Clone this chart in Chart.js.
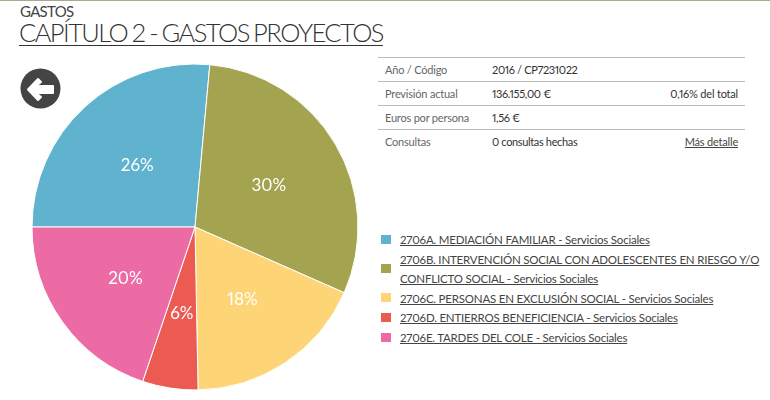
<!DOCTYPE html>
<html lang="es">
<head>
<meta charset="utf-8">
<title>Capítulo 2 - Gastos Proyectos</title>
<script src="https://cdn.jsdelivr.net/npm/chart.js@4/dist/chart.umd.js"></script>
<style>
  html, body { margin: 0; padding: 0; background: #fff; }
  body { width: 770px; height: 400px; position: relative; overflow: hidden; font-family: Lato, sans-serif; color: #444; font-variant-numeric: proportional-nums; }
  #topline { position: absolute; left: 0; top: 0; width: 770px; height: 1px; background: #a9a98c; }
  #over { position: absolute; left: 20px; top: 3px; font: 15px/17px Lato, sans-serif; letter-spacing: -0.7px; color: #444; }
  #title { position: absolute; left: 19px; top: 16px; margin: 0; font: 300 25.5px/32px Lato, sans-serif; letter-spacing: -1.55px; word-spacing: -1px; color: #333; text-decoration: underline; text-decoration-thickness: 1px; text-underline-offset: 3px; white-space: nowrap; }
  #pie { position: absolute; left: 25px; top: 57px; }
  #back { position: absolute; left: 20px; top: 68px; }
  #info { position: absolute; left: 378px; top: 57px; width: 367px; border-collapse: collapse; font-size: 11px; letter-spacing: -0.2px; }
  #info td { height: 24px; padding: 0 7px 1px; box-sizing: border-box; border-top: 1px solid #bbb; white-space: nowrap; color: #333; }
  #info td:first-child { width: 107px; color: #666; }
  #info td:nth-child(2) { letter-spacing: -0.35px; }
  #info td:last-child { text-align: right; }
  #info a, #legend a { color: #444; text-decoration: underline; }
  #legend { position: absolute; left: 381px; top: 230px; width: 385px; margin: 0; padding: 0; list-style: none; font-size: 11.5px; letter-spacing: -0.2px; line-height: 19px; }
  #legend li { position: relative; padding-left: 19px; margin-bottom: 0.8px; }
  #legend i { position: absolute; left: 0; top: 50%; margin-top: -5px; width: 10px; height: 9px; }
</style>
</head>
<body>
<div id="topline"></div>
<div id="over">GASTOS</div>
<h1 id="title">CAPÍTULO 2 - GASTOS PROYECTOS</h1>
<canvas id="pie" width="340" height="340"></canvas>
<svg id="back" width="41" height="41" viewBox="0 0 41 41">
  <circle cx="20.5" cy="20.5" r="20" fill="#444"></circle>
  <path d="M8 21.5 L18 11 L21 14 L16 18 L33 18 L33 25 L16 25 L21 29 L18 32 Z" fill="#fff" stroke="#fff" stroke-width="2" stroke-linejoin="round"></path>
</svg>
<table id="info"></table>
<ul id="legend"></ul>
<script>
const categories = [
  '2706A. MEDIACIÓN FAMILIAR - Servicios Sociales',
  '2706B. INTERVENCIÓN SOCIAL CON ADOLESCENTES EN RIESGO Y/O CONFLICTO SOCIAL - Servicios Sociales',
  '2706C. PERSONAS EN EXCLUSIÓN SOCIAL - Servicios Sociales',
  '2706D. ENTIERROS BENEFICIENCIA - Servicios Sociales',
  '2706E. TARDES DEL COLE - Servicios Sociales'
];
const shares = [26.45, 30.15, 18.1, 5.5, 19.8];
const colors = ['#5fb3cf', '#a3a350', '#fdd576', '#ec5b52', '#ec6ba5'];
const infoLabels = ['Año / Código', 'Previsión actual', 'Euros por persona', 'Consultas'];
const infoValues = ['2016 / CP7231022', '136.155,00 €', '1,56 €', '0 consultas hechas'];
const infoExtras = ['', '0,16% del total', '', '<a href="#">Más detalle</a>'];

document.getElementById('info').innerHTML = infoLabels.map((label, i) =>
  `<tr><td>${label}</td><td>${infoValues[i]}</td><td>${infoExtras[i]}</td></tr>`).join('');

document.getElementById('legend').innerHTML = categories.map((name, i) =>
  `<li><i style="background:${colors[i]}"></i><a href="#">${name}</a></li>`).join('');

// percent text on each slice, placed from the arc the library computed
const sliceLabels = {
  id: 'sliceLabels',
  afterDatasetsDraw(chart) {
    const ctx = chart.ctx;
    ctx.save();
    ctx.fillStyle = '#fff';
    ctx.font = '17px Lato, sans-serif';
    ctx.textAlign = 'center';
    ctx.textBaseline = 'middle';
    chart.getDatasetMeta(0).data.forEach((arc, i) => {
      const mid = (arc.startAngle + arc.endAngle) / 2;
      const r = arc.outerRadius * 0.525;
      ctx.fillText(Math.round(shares[i]) + '%', arc.x + Math.cos(mid) * r, arc.y + Math.sin(mid) * r + 1.5);
    });
    ctx.restore();
  }
};

new Chart(document.getElementById('pie'), {
  type: 'pie',
  data: {
    labels: categories,
    datasets: [{ data: shares, backgroundColor: colors, borderColor: '#fff', borderWidth: 1 }]
  },
  options: {
    responsive: false,
    animation: false,
    rotation: 270,
    radius: 163,
    plugins: { legend: { display: false }, tooltip: { enabled: false } }
  },
  plugins: [sliceLabels]
});
</script>
</body>
</html>
